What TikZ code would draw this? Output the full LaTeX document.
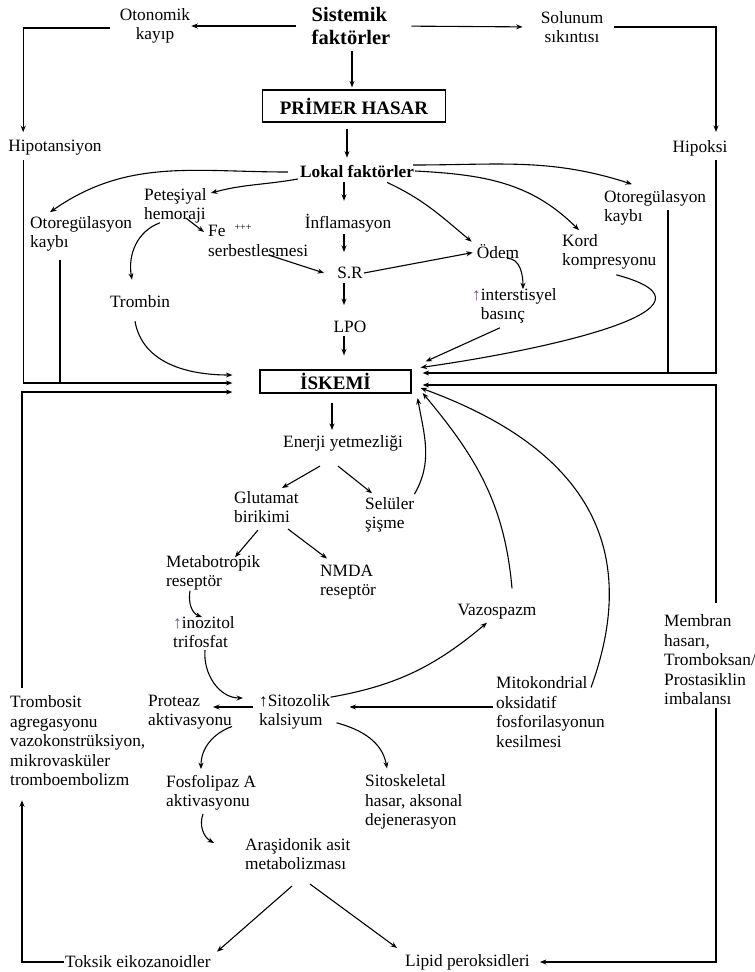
\documentclass[tikz,border=0pt]{standalone}
\usepackage{fontspec}
\setmainfont{Liberation Serif}
\usetikzlibrary{arrows.meta,calc}
\definecolor{upcol}{RGB}{105,70,135}
\newcommand{\yukari}{\textcolor{upcol}{↑}}
\begin{document}
\begin{tikzpicture}[x=1pt,y=-1pt,
  txt/.style={font=\fontsize{17.3}{19.5}\selectfont, inner sep=1pt, align=left},
  hdr/.style={txt, font=\fontsize{17.3}{19.5}\selectfont\bfseries},
  big/.style={txt, font=\fontsize{20.5}{22.5}\selectfont\bfseries},
  boxnode/.style={draw, line width=1.2pt, inner sep=0pt, font=\fontsize{19}{22}\selectfont\bfseries},
  arr/.style={-{Stealth[length=6.5pt,width=5pt]}, line width=1.1pt},
  ln/.style={line width=1.1pt}]
\useasboundingbox (0,0) rectangle (755,972);
\node[big] (sistemik) at (351,26) {Sistemik\\faktörler};
\node[txt, align=center] (otonomik) at (155,26) {Otonomik\\kayıp};
\node[txt, align=center] (solunum) at (572,27) {Solunum\\sıkıntısı};
\node[txt] (hipotansiyon) at (55,148) {Hipotansiyon};
\node[txt] (hipoksi) at (700,148) {Hipoksi};
\node[boxnode, minimum width=183pt, minimum height=32pt] (primer) at (354,106) {PRİMER HASAR};
\node[hdr] (lokal) at (357,171) {Lokal faktörler};
\node[txt, anchor=west] (otoL) at (29,234) {Otoregülasyon\\kaybı};
\node[txt, anchor=west] (petes) at (143,206) {Peteşiyal\\hemoraji};
\node[txt, anchor=west] (fe) at (207,241) {Fe\hspace{9pt}\raisebox{6pt}{\fontsize{10}{10}\selectfont +++}\\serbestlesmesi};
\node[txt] (trombin) at (140,302) {Trombin};
\node[txt] (inflam) at (348,223) {İnflamasyon};
\node[txt] (sr) at (350,273) {S.R};
\node[txt] (lpo) at (350,327) {LPO};
\node[boxnode, minimum width=151pt, minimum height=23pt] (iskemi) at (335.5,381.5) {İSKEMİ};
\node[txt] (odem) at (498,252) {Ödem};
\node[txt, anchor=west] (inter) at (471,306) {\yukari interstisyel\\\phantom{\yukari}basınç};
\node[txt, anchor=west] (kord) at (561,252) {Kord\\kompresyonu};
\node[txt, anchor=west] (otoR) at (603,208) {Otoregülasyon\\kaybı};
\node[txt] (enerji) at (343,443) {Enerji yetmezliği};
\node[txt, anchor=west] (glutamat) at (233,507) {Glutamat\\birikimi};
\node[txt, anchor=west] (seluler) at (364,515) {Selüler\\şişme};
\node[txt, anchor=west] (metabo) at (165,573) {Metabotropik\\reseptör};
\node[txt, anchor=west] (nmda) at (319,582) {NMDA\\reseptör};
\node[txt, anchor=west] (inozitol) at (172,632) {\yukari inozitol\\trifosfat};
\node[txt, anchor=west] (sitozolik) at (258,712) {↑Sitozolik\\kalsiyum};
\node[txt, anchor=west] (proteaz) at (147,712) {Proteaz\\aktivasyonu};
\node[txt] (vazo) at (497,612) {Vazospazm};
\node[txt, anchor=west] (mito) at (495,712) {Mitokondrial\\oksidatif\\fosforilasyonun\\kesilmesi};
\node[txt, anchor=west] (membran) at (663,660) {Membran\\hasarı,\\Tromboksan/\\Prostasiklin\\imbalansı};
\node[txt, anchor=west] (trombosit) at (9,741) {Trombosit\\agregasyonu\\vazokonstrüksiyon,\\mikrovasküler\\tromboembolizm};
\node[txt, anchor=west] (fosfo) at (165,793) {Fosfolipaz A\\aktivasyonu};
\node[txt, anchor=west] (sitosk) at (364,802) {Sitoskeletal\\hasar, aksonal\\dejenerasyon};
\node[txt, anchor=west] (arasi) at (244,854) {Araşidonik asit\\metabolizması};
\node[txt, anchor=west] (toksik) at (64,962) {Toksik eikozanoidler};
\node[txt, anchor=west] (lipid) at (404,962) {Lipid peroksidleri};
\coordinate (inL1) at ($(iskemi.west)+(-27,-6.5)$);
\coordinate (inL2) at ($(iskemi.west)+(-27,1.5)$);
\coordinate (inL3) at ($(iskemi.west)+(-27,10.5)$);
\coordinate (inR1) at ($(iskemi.east)+(14,-20)$);
\coordinate (inR2) at ($(iskemi.east)+(9,-14)$);
\coordinate (inR3) at ($(iskemi.east)+(11,-8.5)$);
\coordinate (inR4) at ($(iskemi.east)+(11,3.5)$);
\coordinate (inR5) at ($(iskemi.east)+(9,6.5)$);
\coordinate (inR6) at ($(iskemi.east)+(11,11.5)$);
\coordinate (inR7) at ($(iskemi.east)+(6,16.5)$);
\coordinate (oL) at ($(otoL.west)+(31,26)$);
\coordinate (oR) at ($(otoR.west)+(65,2)$);
\draw[arr, shorten <=15pt] (sistemik.west) -- (otonomik.east);
\draw[arr, shorten <=20pt, shorten >=17pt] (sistemik.east) -- (solunum.west);
\draw[arr] ($(otonomik.west)+(-9,2)$) -| ($(hipotansiyon.north west)+(16,-7)$);
\draw[arr] ($(solunum.east)+(10,0)$) -| ($(hipoksi.north)+(16,-7)$);
\draw[arr] ($(sistemik.south)+(1,5)$) -- ($(primer.north)+(-2,-2)$);
\draw[arr] ($(primer.south)+(-7,6)$) -- ($(lokal.north)+(-10,-6)$);
\draw[arr] ($(hipotansiyon.south west)+(16,3)$) |- (inL2);
\draw[arr] ($(hipoksi.south)+(16,3)$) |- (inR3);
\draw[ln] (oL) -- (oL |- inL2);
\draw[ln] (oR) -- (oR |- inR3);
\draw[arr] ($(lokal.west)+(-11,1)$) to[out=180, in=35] ($(otoL.north west)+(21,-3)$);
\draw[arr] ($(lokal.west)+(-1,8)$) to[out=190, in=15] ($(petes.east)+(3,-13)$);
\draw[arr] ($(petes.east)+(-22,12)$) -- ($(fe.west)+(-3,-9)$);
\draw[arr] ($(petes.south west)+(17,-2)$) to[out=200, in=100] ($(trombin.north)+(-8,-15)$);
\draw[arr] ($(trombin.south)+(-5,12)$) to[out=-80, in=180] (inL1);
\draw[arr] ($(lokal.south)+(-13,4)$) -- ($(inflam.north)+(-4,-12)$);
\draw[arr] ($(inflam.south)+(-4,1)$) -- ($(sr.north)+(-6,-14)$);
\draw[arr] ($(sr.south)+(-6,3)$) -- ($(lpo.north)+(-6,-15)$);
\draw[arr] ($(lpo.south)+(-6,2)$) -- ($(iskemi.north)+(8.5,-14)$);
\draw[arr] ($(fe.south)+(10,-3)$) -- ($(sr.west)+(-12,0)$);
\draw[arr, shorten >=3pt] (sr.east) -- (odem.west);
\draw[arr] ($(lokal.south)+(30,4)$) to[out=-25, in=140] ($(odem.north west)+(-4,-2)$);
\draw[arr] (lokal.east) to[out=-3, in=135] ($(kord.north west)+(18,-3)$);
\draw[arr] ($(lokal.east)+(-2,-6)$) to[out=0, in=162] ($(otoR.north west)+(29,-5)$);
\draw[arr] ($(odem.south)+(9,-2)$) to[out=0, in=90] ($(inter.north west)+(52,2)$);
\draw[arr] ($(inter.south west)+(29,3)$) -- (inR1);
\draw[arr] ($(kord.south)+(7,4)$) to[out=-15, in=8, looseness=1.5] (inR2);
\draw[arr] ($(iskemi.south)+(-3.5,9)$) -- ($(enerji.north)+(-11,-4)$);
\draw[arr] ($(enerji.south)+(-23,14)$) -- ($(glutamat.north west)+(49,-2)$);
\draw[arr] ($(enerji.south)+(-5,14)$) -- ($(seluler.north west)+(8,-3)$);
\draw[arr] ($(glutamat.south west)+(25,6)$) -- ($(metabo.north west)+(70,3)$);
\draw[arr] ($(glutamat.south west)+(55,5)$) -- ($(nmda.north west)+(8,-5)$);
\draw[arr] ($(seluler.north east)+(-1,-2)$) to[out=60, in=-80] (inR7);
\draw[arr] ($(metabo.south west)+(25,-1)$) to[out=-100, in=160] ($(inozitol.north west)+(30,2)$);
\draw[arr] ($(inozitol.south west)+(33,1)$) to[out=-95, in=180] ($(sitozolik.west)+(-15,-14)$);
\draw[arr] ($(sitozolik.west)+(-5,-5)$) -- ($(proteaz.west)+(66,-5)$);
\draw[arr] ($(proteaz.south east)+(-1,-4)$) to[out=200, in=90] ($(fosfo.north west)+(36,-5)$);
\draw[arr] ($(fosfo.south west)+(38,2)$) to[out=-110, in=150] ($(arasi.west)+(-30,-11)$);
\draw[arr] ($(arasi.south west)+(48,15)$) -- ($(toksik.north west)+(153,-3)$);
\draw[arr] ($(arasi.south west)+(66,13)$) -- ($(lipid.north west)+(-7,-5)$);
\draw[arr] (toksik.west) -| ($(trombosit.south west)+(13,13)$);
\draw[arr] ($(trombosit.north west)+(13,-7)$) |- (inL3);
\draw[arr] ($(membran.north west)+(53,-11)$) |- (inR4);
\draw[arr] ($(membran.south west)+(53,2)$) |- ($(lipid.east)+(9,0)$);
\draw[arr] ($(mito.west)+(-2,-5)$) -- ($(sitozolik.east)+(18,-5)$);
\draw[arr] ($(sitozolik.north east)+(-1,4)$) to[out=10, in=-140] ($(vazo.south)+(-10,2)$);
\draw[arr] ($(vazo.north)+(15,-15)$) to[out=95, in=-50] (inR6);
\draw[arr] ($(mito.north west)+(96,12)$) to[out=70, in=-20, looseness=1.2] (inR5);
\draw[arr] ($(sitozolik.south east)+(5,-8)$) to[out=-15, in=100] ($(sitosk.north west)+(23,-5)$);
\end{tikzpicture}
\end{document}
